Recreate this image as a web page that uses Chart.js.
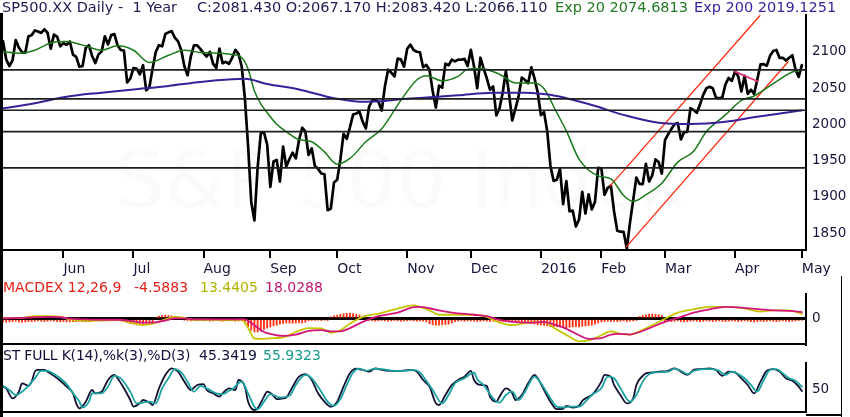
<!DOCTYPE html>
<html><head><meta charset="utf-8">
<script src="https://cdn.jsdelivr.net/npm/chart.js@4.4.1/dist/chart.umd.min.js"></script>
<style>
html,body{margin:0;padding:0;background:#fff;}
body{width:850px;height:417px;position:relative;overflow:hidden;font-family:"DejaVu Sans",sans-serif;}
.t{position:absolute;white-space:pre;font-size:14.5px;line-height:14.5px;z-index:5;}
.s{position:absolute;white-space:pre;font-size:14px;line-height:14px;z-index:5;}
canvas{position:absolute;left:0;z-index:2;}
.wm{position:absolute;left:115px;top:141px;font-size:78px;line-height:78px;color:#fafafa;white-space:pre;z-index:1;}
.ln{position:absolute;background:#000;z-index:4;}
</style></head>
<body>
<div class="wm">S&amp;P 500 Index</div>
<canvas id="c1" width="850" height="282" style="top:0;width:850px;height:282px"></canvas>
<canvas id="c2" width="850" height="58" style="top:290px;width:850px;height:58px"></canvas>
<canvas id="c3" width="850" height="58" style="top:358px;width:850px;height:58px"></canvas>

<div class="t" style="left:2px;top:0;color:#1c1c50">SP500.XX Daily -  1 Year</div>
<div class="t" style="left:197px;top:0;color:#1c1c50">C:2081.430 O:2067.170 H:2083.420 L:2066.110</div>
<div class="t" style="left:555px;top:0;color:#237a23">Exp 20 2074.6813</div>
<div class="t" style="left:694px;top:0;color:#3b1f9a">Exp 200 2019.1251</div>

<div class="s" style="left:3px;top:280px;color:#e8201a">MACDEX 12,26,9</div>
<div class="s" style="left:134px;top:280px;color:#e8201a">-4.5883</div>
<div class="s" style="left:200px;top:280px;color:#b3b300">13.4405</div>
<div class="s" style="left:265px;top:280px;color:#c0166e">18.0288</div>

<div class="s" style="left:3px;top:348px;color:#10103a;letter-spacing:-0.2px">ST FULL K(14),%k(3),%D(3)</div>
<div class="s" style="left:199px;top:348px;color:#10103a">45.3419</div>
<div class="s" style="left:263px;top:348px;color:#159a8c">55.9323</div>

<div class="ln" style="left:0;top:13px;width:2.5px;height:404px"></div>
<div class="ln" style="left:840.5px;top:276px;width:1.5px;height:141px"></div>
<div class="ln" style="left:806px;top:414px;width:36px;height:1.5px"></div>

<script>
// ---------- DATA ----------
const close_2015_05 = [2114.49,2089.46,2080.15,2088.00,2116.10,2105.33,2099.12,2098.48,2121.10,2122.73,2129.20,2127.83,2125.85,2130.82,2126.06,2104.20,2123.48,2120.79,2107.39];
const close_2015_06 = [2111.73,2109.60,2114.07,2095.84,2092.83,2079.28,2080.15,2105.20,2108.86,2094.11,2084.43,2096.29,2100.44,2121.24,2109.99,2122.85,2124.20,2108.58,2102.31,2101.49,2057.64,2063.11];
const close_2015_07 = [2077.42,2076.78,2068.76,2081.34,2046.68,2051.31,2076.62,2099.60,2108.95,2107.40,2124.29,2126.64,2128.28,2119.21,2114.15,2102.15,2079.65,2067.64,2093.25,2108.57,2108.63,2103.84];
const close_2015_08 = [2098.04,2093.32,2099.84,2083.56,2077.57,2104.18,2084.07,2086.05,2083.39,2091.54,2102.44,2096.92,2079.61,2035.73,1970.89,1893.21,1867.61,1940.51,1987.66,1988.87,1972.18];
const close_2015_09 = [1913.85,1948.86,1951.13,1921.22,1969.41,1942.04,1952.29,1961.05,1953.03,1978.09,1995.31,1990.20,1958.03,1966.97,1942.74,1938.76,1932.24,1931.34,1881.77,1884.09,1920.03];
const close_2015_10 = [1923.82,1951.36,1987.05,1979.92,1995.83,2013.43,2014.89,2017.46,2003.69,1994.24,2023.86,2033.11,2033.66,2030.77,2018.94,2052.51,2075.15,2071.18,2065.89,2090.35,2089.41,2079.36];
const close_2015_11 = [2104.05,2109.79,2102.31,2099.93,2099.20,2078.58,2081.72,2075.00,2045.97,2023.04,2053.19,2050.44,2083.58,2081.24,2089.17,2086.59,2089.14,2088.87,2090.11,2080.41];
const close_2015_12 = [2102.63,2079.51,2049.62,2091.69,2077.07,2063.59,2047.62,2052.23,2012.37,2021.94,2043.41,2073.07,2041.89,2005.55,2021.15,2038.97,2064.29,2060.99,2056.50,2078.36,2063.36,2043.94];
const close_2016_01 = [2012.66,2016.71,1990.26,1943.09,1922.03,1923.67,1938.68,1890.28,1921.84,1880.33,1881.33,1859.33,1868.99,1906.90,1877.08,1903.63,1882.95,1893.36,1940.24];
const close_2016_02 = [1939.38,1903.03,1912.53,1915.45,1880.05,1853.44,1852.21,1851.86,1829.08,1864.78,1895.58,1926.82,1917.83,1917.78,1945.50,1921.27,1929.80,1951.70,1948.05,1932.23];
const close_2016_03 = [1978.35,1986.45,1993.40,1999.99,2001.76,1979.26,1989.26,1989.57,2022.19,2019.64,2015.93,2027.22,2040.59,2049.58,2051.60,2049.80,2036.71,2035.94,2037.05,2055.01,2063.95,2059.74];
const close_2016_04 = [2072.78,2066.13,2045.17,2066.66,2041.91,2047.60,2041.99,2061.72,2082.42,2082.78,2080.73,2094.34,2100.80,2102.40,2091.48,2091.58,2087.79,2091.70,2095.15,2075.81,2065.30];
const close_2016_05 = [2081.43];

const monthLabels = ['Jun','Jul','Aug','Sep','Oct','Nov','Dec','2016','Feb','Mar','Apr','May'];
const priceTicks = [1850,1900,1950,2000,2050,2100];

// horizontal levels and trend lines (trading-day index, price)
const levels = [2075, 2035, 2019.3, 1990, 1940];
const channelUpperIdx = [190.7, 237.8];
const channelUpperVal = [1915, 2149.5];
const channelLowerIdx = [195.9, 246.7];
const channelLowerVal = [1831.6, 2086.2];
const pinkIdx = [230, 237.2];
const pinkVal = [2072.5, 2059];

const ema20Idx = [0,5,10,15,20,25,31,36,41,46,52,57,62,67,72,75,77,79,81,83,86,89,93,97,101,105,109,114,119,125,130,133,138,143,146,150,156,161,167,170,174,177,181,187,191,195,198,202,207,212,217,221,227,232,236,242,248,251];
const ema20Val = [2100,2098,2102,2112,2114,2109,2102,2108,2102,2085,2095,2102,2099,2098,2096,2092,2076,2046,2028,2016,2000,1990,1979,1976,1962,1945,1953,1976,1994,2033,2061,2067,2060,2066,2076,2077,2069,2057,2057,2049,2016,1991,1952,1929,1925,1902,1894,1903,1919,1948,1963,1990,2013,2033,2039,2056,2072,2074.68];

// Exp 200
const ema200Idx = [0,10,20,31,41,52,62,72,76,83,93,104,114,120,125,132,143,154,164,169,174,185,195,206,216,227,237,248,251];
const ema200Val = [2022,2029,2038,2043.6,2048,2052.8,2058.3,2062,2062.6,2055.5,2048,2036,2031,2032,2034.5,2036.5,2040,2043.6,2043.6,2042,2039,2026.6,2013,2002.3,2000.5,2003.6,2010.5,2017.4,2019.13];

// MACD line
const macdIdx = [0,5,10,15,18,21,26,31,36,40,44,47,51,54,57,60,65,70,75,77,79,82,85,88,92,96,100,103,106,109,113,118,124,129,131,134,137,141,148,152,155,160,165,170,173,175,178,181,184,188,191,194,197,200,204,208,212,217,222,227,232,238,242,247,251];
const macdVal = [2,2,7,7,6,-2,-6,-5,-4,-10,-18,-14,-2,5,2,-3,-3,-4,-3,-25,-55,-56,-54,-52,-37,-26,-27,-39,-32,-14,5,14,28,37,33,23,11,11,11,5,-7,-18,-11,-9,-25,-35,-50,-63,-60,-46,-35,-42,-44,-35,-18,0,17,26,33,33,30,20,23,23,13.44];
// Signal line
const signalIdx = [0,5,10,15,18,21,26,31,36,40,44,47,51,54,57,60,65,70,76,78,80,82,85,88,92,96,100,103,106,109,113,118,124,129,131,134,137,141,148,152,155,160,165,170,173,176,181,184,188,191,194,197,200,204,208,212,217,222,227,232,238,242,247,251];
const signalVal = [1,2,4,5,4,0,-2,-3,-3,-6,-11,-11,-5,1,1,-2,-2,-2,-2,-12,-25,-37,-44,-48,-44,-34,-32,-35,-35,-26,-9,7,17,32,33,29,23,17,11,7,-1,-9,-11,-9,-16,-24,-46,-56,-54,-44,-42,-44,-37,-23,-9,2,17,26,33,31,26,23,22,18.03];

// MACD histogram (daily, by month)
const hist_2015_05 = [-8,-10,-9,-8,-7,-9,-10,-9,-8,-8,-7,-6,-7,-8,-7,-6,-7,-8,-9];
const hist_2015_06 = [-8,-9,-9,-8,-8,-7,-8,-9,-8,-7,-5,-4,-5,-4,-5,-4,-5,-5,-6,-8,-11,-14];
const hist_2015_07 = [-15,-17,-16,-17,-15,-13,-10,4,7,9,10,9,8,7,5,3,-4,-5,-6,-5,-6,-5];
const hist_2015_08 = [-6,-5,-7,-6,-5,-6,-7,-6,-5,-6,-7,-6,-5,-10,-22,-32,-37,-37,-34,-30,-26];
const hist_2015_09 = [-23,-20,-18,-15,-13,-12,-12,-13,-12,-11,-12,-10,-6,-5,-5,-4,-5,-4,-5,5,8];
const hist_2015_10 = [10,12,14,15,15,14,12,10,7,4,-5,-6,-7,-6,-5,-6,-7,-6,-5,-6,-7,-6];
const hist_2015_11 = [-6,-5,-6,-7,-6,-7,-9,-14,-17,-18,-18,-17,-16,-15,-12,-8,-7,-6,-7,-6];
const hist_2015_12 = [-6,-7,-8,-7,-6,-7,-8,-7,-6,-7,-8,-7,-6,-7,-8,-8,-9,-11,-12,-14,-15,-17];
const hist_2016_01 = [-18,-19,-20,-22,-23,-22,-23,-24,-25,-24,-23,-22,-23,-21,-20,-19,-18,-15,-12];
const hist_2016_02 = [-9,-8,-7,-8,-7,-8,-7,-6,-8,-7,-6,-5,6,9,11,13,13,12,11,9];
const hist_2016_03 = [-6,-7,-8,-7,-6,-8,-9,-8,-7,-6,-7,-8,-7,-6,-7,-8,-7,-6,-7,-8,-7,-6];
const hist_2016_04 = [-7,-8,-7,-6,-7,-8,-9,-8,-7,-8,-7,-6,-7,-8,-7,-6,-7,-8,-7,-6,-5];
const hist_2016_05 = [-4.5883];
const macdTicks = [0];

// Stochastic %K and %D (sampled)
const stochKIdx = [0,1,3,5,6,8,9,10,11,13,14,16,18,20,22,23,24,26,28,29,31,33,35,36,38,40,41,43,44,46,47,49,51,53,55,57,59,61,63,64,66,68,69,71,73,74,76,77,79,80,82,83,85,86,88,89,91,93,95,97,99,101,103,105,107,109,111,113,115,117,119,122,125,128,130,132,134,136,137,139,141,143,145,147,148,150,152,153,155,156,158,160,161,163,165,167,168,170,172,174,176,177,179,181,182,185,186,188,189,191,192,194,196,198,199,201,202,204,206,209,211,213,215,217,219,222,224,226,228,230,232,234,236,238,240,242,244,246,248,250,251];
const stochKVal = [56,52,28,44,64,58,68,92,96,96,92,82,70,56,40,16,4,20,48,40,44,72,84,76,52,24,8,16,24,18,12,52,84,100,92,68,48,60,62,48,40,32,40,52,48,72,56,20,0,4,32,44,34,26,28,30,56,80,86,72,40,20,8,20,56,88,99,96,92,100,96,94,94,96,92,72,56,16,12,36,60,72,80,94,72,60,58,32,20,32,52,40,24,36,64,84,76,48,20,2,3,10,6,10,22,36,44,68,84,80,60,36,16,28,60,82,88,90,92,94,100,92,84,96,98,100,96,82,92,90,76,60,40,68,94,98,92,76,70,56,45.34];
const stochDIdx = [0,2,4,6,8,10,12,14,16,18,20,22,24,25,27,28,31,33,35,37,40,42,44,46,48,50,52,54,56,58,60,62,64,67,69,71,72,75,77,79,80,82,84,87,90,92,95,97,100,102,104,106,108,110,112,114,117,119,123,126,129,131,133,135,138,140,142,145,148,149,151,154,156,158,160,162,164,167,169,172,174,176,178,181,183,185,188,190,192,194,197,199,201,203,205,209,211,213,215,217,220,223,225,227,229,231,233,235,237,239,241,243,245,247,249,251];
const stochDVal = [58,48,36,44,58,76,94,94,86,76,62,40,20,6,20,40,40,56,82,76,44,16,18,20,16,52,76,98,90,68,44,58,52,40,38,46,50,68,40,8,2,20,38,30,34,60,84,76,44,20,10,26,60,90,99,94,99,98,94,94,96,90,70,48,16,36,64,76,90,74,60,28,18,36,44,24,44,80,64,28,8,6,8,8,20,36,52,80,76,52,20,36,68,86,90,92,99,94,86,94,98,98,94,84,92,86,76,60,44,72,96,98,88,76,70,55.93];
const stochTicks = [50];

// ---------- BUILD ----------
const FONT = '"DejaVu Sans", sans-serif';
const NAVY = '#16163c';
const X_MIN = 0, X_MAX = 252.3;

function flatten(arrays){ const pts=[]; let i=0; arrays.forEach(a=>a.forEach(v=>pts.push({x:i++, y:v}))); return pts; }
function pairs(idx, val){ return idx.map((x,k)=>({x:x, y:val[k]})); }

const closeMonths = [close_2015_05,close_2015_06,close_2015_07,close_2015_08,close_2015_09,close_2015_10,close_2015_11,close_2015_12,close_2016_01,close_2016_02,close_2016_03,close_2016_04,close_2016_05];
const histMonths = [hist_2015_05,hist_2015_06,hist_2015_07,hist_2015_08,hist_2015_09,hist_2015_10,hist_2015_11,hist_2015_12,hist_2016_01,hist_2016_02,hist_2016_03,hist_2016_04,hist_2016_05];

const monthStarts = []; { let c=0; closeMonths.forEach((a,m)=>{ if(m>0) monthStarts.push(c); c+=a.length; }); }
const monthLabelAt = {}; monthStarts.forEach((v,k)=>monthLabelAt[v]=monthLabels[k]);

const closePts = flatten(closeMonths);
const histPts = flatten(histMonths);

Chart.defaults.font.family = FONT;

function baseX(showTicks){
  const o = {type:'linear', min:X_MIN, max:X_MAX, offset:false,
    afterBuildTicks: s=>{ s.ticks = monthStarts.map(v=>({value:v})); },
    border:{display:true, color:'#000', width:2}};
  if(showTicks){
    o.ticks = {autoSkip:false, maxRotation:0, align:'start', padding:3, color:NAVY, font:{size:14, family:FONT},
      callback: v=>monthLabelAt[v] || ''};
    o.grid = {display:true, drawOnChartArea:false, drawTicks:true, tickLength:8, color:'#000', lineWidth:2};
    o.afterFit = s=>{ s.height = 32; s.paddingLeft = 0; s.paddingRight = 0; };
  } else {
    o.ticks = {display:false};
    o.grid = {display:false, drawTicks:false};
    o.afterFit = s=>{ s.height = 4; s.paddingLeft = 0; s.paddingRight = 0; };
  }
  return o;
}
function baseY(min, max, tickList, gridOpts){
  return {position:'right', min:min, max:max,
    afterBuildTicks: s=>{ s.ticks = tickList.map(v=>({value:v})); },
    ticks:{padding:6, color:NAVY, font:{size:13.5, family:FONT}, callback: v=>String(v)},
    grid: gridOpts || {display:false, drawTicks:false},
    border:{display:true, color:'#000', width:2},
    afterFit: s=>{ s.width = 44; s.paddingTop = 0; s.paddingBottom = 0; }};
}
const common = {responsive:false, animation:false, events:[],
  plugins:{legend:{display:false}, tooltip:{enabled:false}},
  elements:{point:{radius:0}, line:{tension:0, borderJoinStyle:'round', borderCapStyle:'round'}}};

// Main price chart
new Chart(document.getElementById('c1'), {
  type:'line',
  data:{datasets:[
    ...levels.map(v=>({data:[{x:X_MIN,y:v},{x:X_MAX,y:v}], borderColor:'#1b1f1f', borderWidth:1.6})),
    {data:pairs(ema200Idx, ema200Val), borderColor:'#3b1f9a', borderWidth:2, cubicInterpolationMode:'monotone'},
    {data:pairs(ema20Idx, ema20Val), borderColor:'#1a7a1a', borderWidth:1.5, cubicInterpolationMode:'monotone'},
    {data:pairs(channelUpperIdx, channelUpperVal), borderColor:'#ff2a10', borderWidth:1.3},
    {data:pairs(channelLowerIdx, channelLowerVal), borderColor:'#ff2a10', borderWidth:1.3},
    {data:pairs(pinkIdx, pinkVal), borderColor:'#e0307a', borderWidth:1.8},
    {data:closePts, borderColor:'#000', borderWidth:2.7}
  ]},
  options:Object.assign({}, common, {
    layout:{padding:{left:3, top:15, right:0, bottom:0}},
    scales:{ x: baseX(true), y: baseY(1827, 2150.5, priceTicks) }
  })
});

// MACD chart
new Chart(document.getElementById('c2'), {
  type:'line',
  data:{datasets:[
    {type:'bar', data:histPts, backgroundColor:'#ff3010', barThickness:1.2, borderWidth:0, order:3},
    {data:pairs(signalIdx, signalVal), borderColor:'#d3147a', borderWidth:1.8, cubicInterpolationMode:'monotone', order:1},
    {data:pairs(macdIdx, macdVal), borderColor:'#c6c600', borderWidth:1.8, cubicInterpolationMode:'monotone', order:2}
  ]},
  options:Object.assign({}, common, {
    layout:{padding:{left:3, top:4, right:0, bottom:0}},
    scales:{ x: baseX(false), y: baseY(-70.3, 68.6, macdTicks, {display:true, drawTicks:false, drawOnChartArea:true, color:'#000', lineWidth:3}) }
  })
});

// Stochastic chart
new Chart(document.getElementById('c3'), {
  type:'line',
  data:{datasets:[
    {data:pairs(stochDIdx, stochDVal), borderColor:'#1aa3a0', borderWidth:1.8, cubicInterpolationMode:'monotone'},
    {data:pairs(stochKIdx, stochKVal), borderColor:'#111133', borderWidth:1.8, cubicInterpolationMode:'monotone'}
  ]},
  options:Object.assign({}, common, {
    layout:{padding:{left:3, top:4.7, right:0, bottom:0}},
    scales:{ x: baseX(false), y: baseY(-4.8, 113.4, stochTicks) }
  })
});
</script>
</body></html>
